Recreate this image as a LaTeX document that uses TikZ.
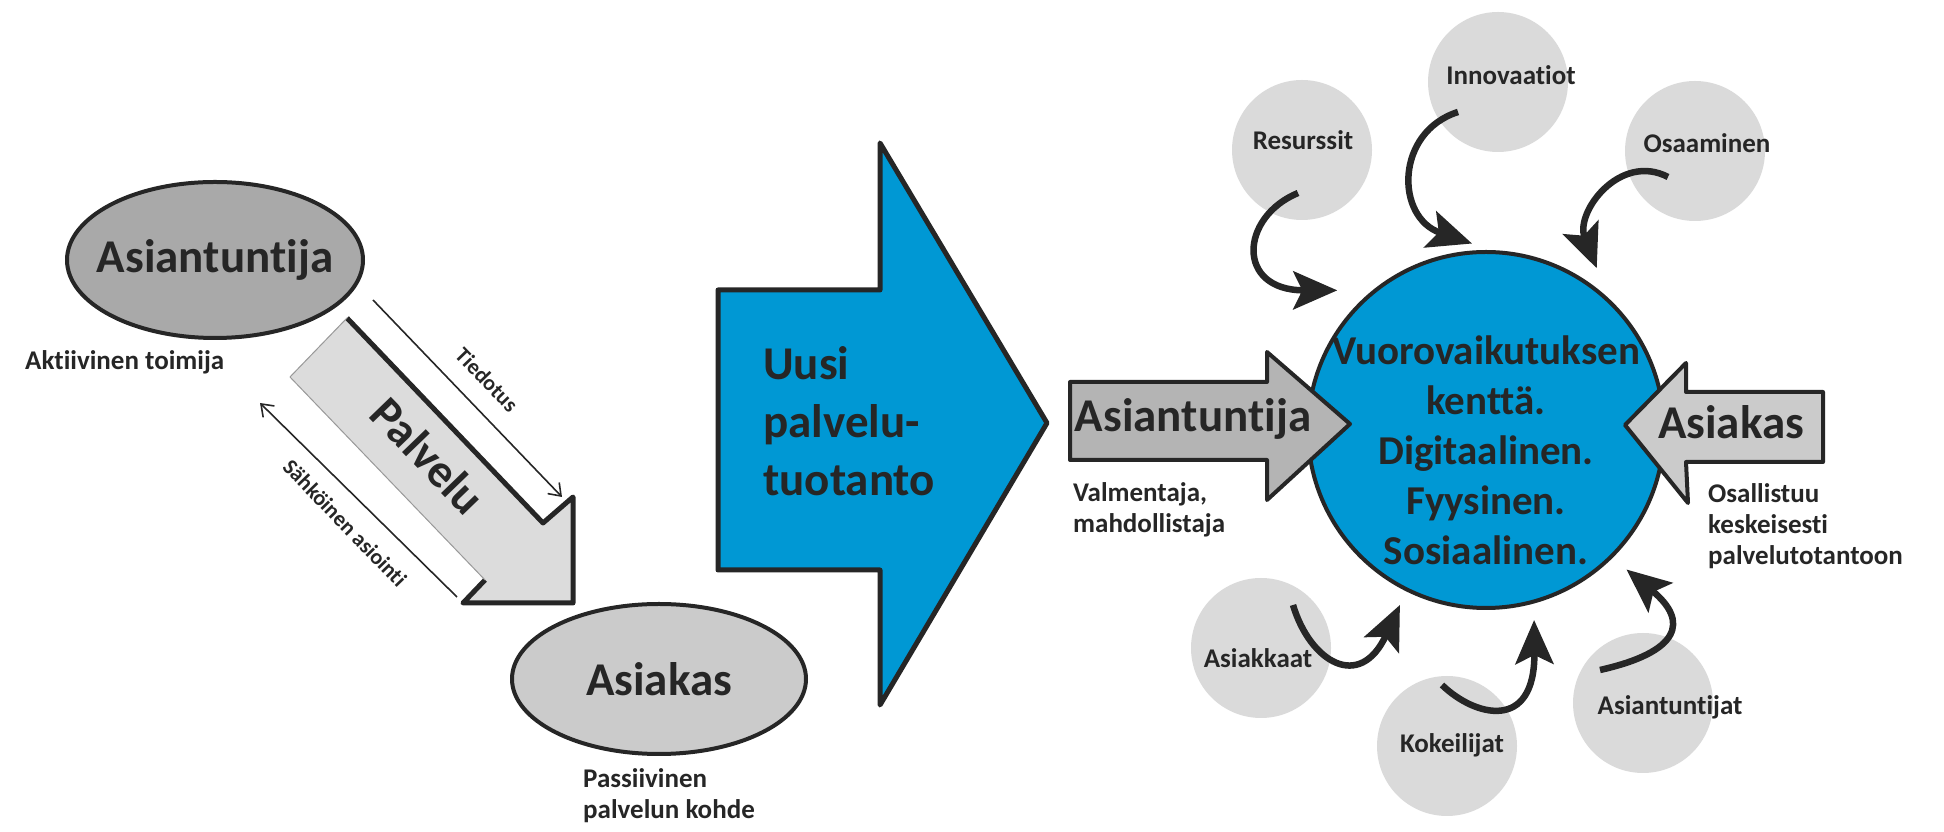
\documentclass[tikz,border=0pt]{standalone}
\usepackage{fontspec}
\setmainfont{Carlito}[Ligatures=NoCommon]
\usetikzlibrary{shapes.geometric}
\usetikzlibrary{calc}
\usetikzlibrary{arrows.meta}

\definecolor{ink}{HTML}{262626}
\definecolor{fieldblue}{HTML}{0098D4}
\definecolor{roledark}{HTML}{A9A9A9}
\definecolor{rolemid}{HTML}{B4B4B4}
\definecolor{rolelight}{HTML}{CBCBCB}
\definecolor{servicegray}{HTML}{DCDCDC}
\definecolor{bubblegray}{HTML}{DADADA}

\newcommand*{\lblbig}{\fontsize{47}{52}\selectfont\bfseries}
\newcommand*{\lblcore}{\fontsize{41}{50}\selectfont\bfseries}
\newcommand*{\lblnote}{\fontsize{27}{31}\selectfont\bfseries}
\newcommand*{\lbltiny}{\fontsize{22}{24}\selectfont\bfseries}

\begin{document}
\begin{tikzpicture}[x=1pt, y=1pt, ink, line join=round,
    bubble/.style = {circle, fill=bubblegray, minimum size=140pt, inner sep=0pt},
    feed/.style = {line width=6.5pt, -{Stealth[length=44pt, width=38pt, inset=9pt]}},
    thinarrow/.style = {line width=1.6pt, -{Straight Barb[length=11pt, width=16pt]}},
    note/.style = {font=\lblnote, inner sep=0pt, align=left}]
    \useasboundingbox (0,0) rectangle (1944,832);

    % vanha malli
    \node (expert) at (215,572) [ellipse, draw, fill=roledark, line width=4pt, minimum width=296pt, minimum height=156pt] {};
    \node at (expert) [font=\lblbig] {Asiantuntija};
    \node (expertnote) at (25,470) [note, anchor=west] {Aktiivinen toimija};

    \node (client) at (659,153) [ellipse, draw, fill=rolelight, line width=4pt, minimum width=294pt, minimum height=150pt] {};
    \node at (client) [font=\lblbig] {Asiakas};
    \node (clientnote) at (583,64) [note, anchor=north west] {Passiivinen\\palvelun kohde};

    \fill[servicegray] (347,514) -- (543,309) -- (573,335) -- (573,229) -- (463,229) -- (485,252) -- (290,455) -- cycle;
    \draw[line width=5pt] (347,514) -- (543,309) -- (573,335) -- (573,229) -- (463,229) -- (485,252);
    \draw[line width=1pt, black!40] (485,252) -- (290,455) -- (347,514);
    \node (service) at (428,376) [rotate=-46, font=\lblbig] {Palvelu};

    \coordinate (tiedA) at (373,532);
    \coordinate (tiedB) at (562,335);
    \draw[thinarrow] (tiedA) -- (tiedB);
    \node at (487,452) [rotate=-46, font=\lbltiny] {Tiedotus};

    \coordinate (sahA) at (457,235);
    \coordinate (sahB) at (260,429);
    \draw[thinarrow] (sahA) -- (sahB);
    \node at (345,309) [rotate=-46, font=\lbltiny] {Sähköinen asiointi};

    % uusi malli
    \filldraw[fill=fieldblue, line width=5pt] (718,542) -- (880,542) -- (880,689) -- (1047,409) -- (880,127) -- (880,262) -- (718,262) -- cycle;
    \node (newprod) at (763,486) [font=\fontsize{47}{58}\selectfont\bfseries, inner sep=0pt, align=left, anchor=north west] {Uusi\\palvelu-\\tuotanto};

    \node (res) at (1302,682) [bubble] {};
    \node (inn) at (1498,750) [bubble] {};
    \node (osa) at (1695,681) [bubble] {};
    \node (asi) at (1261,184) [bubble] {};
    \node (kok) at (1447,86) [bubble] {};
    \node (ast) at (1643,129) [bubble] {};
    \node at ([shift={(1,10)}]res) [font=\lblnote] {Resurssit};
    \node at ([shift={(13,7)}]inn) [font=\lblnote] {Innovaatiot};
    \node at ([shift={(12,8)}]osa) [font=\lblnote] {Osaaminen};
    \node at ([shift={(-3,-10)}]asi) [font=\lblnote] {Asiakkaat};
    \node at ([shift={(5,1)}]kok) [font=\lblnote] {Kokeilijat};
    \node at ([shift={(27,-4)}]ast) [font=\lblnote] {Asiantuntijat};

    \node (field) at (1486,402) [circle, draw, fill=fieldblue, line width=4pt, minimum size=356pt, inner sep=0pt] {};
    \node at ([yshift=-20pt]field) [font=\lblcore, align=center] {Vuorovaikutuksen\\kenttä.\\Digitaalinen.\\Fyysinen.\\Sosiaalinen.};

    \coordinate (resA) at ([shift={(-4,-43)}]res.center);
    \coordinate (resB) at ([shift={(136.8:204)}]field.center);
    \coordinate (innA) at ([shift={(-40,-30)}]inn.center);
    \coordinate (innB) at ([shift={(94.3:187)}]field.center);
    \coordinate (osaA) at ([shift={(-27,-26)}]osa.center);
    \coordinate (osaB) at ([shift={(55.6:196)}]field.center);
    \coordinate (asiA) at ([shift={(32,43)}]asi.center);
    \coordinate (asiB) at ([shift={(243.8:195)}]field.center);
    \coordinate (kokA) at ([shift={(-5,61)}]kok.center);
    \coordinate (kokB) at ([shift={(284.2:196)}]field.center);
    \coordinate (astA) at ([shift={(-43,33)}]ast.center);
    \coordinate (astB) at ([shift={(315.2:198)}]field.center);

    \draw[feed] (resA) .. controls +(-58,-24) and +(-102,0) .. (resB);
    \draw[feed] (innA) .. controls +(-63,-20) and +(-77,26) .. (innB);
    \draw[feed] (osaA) .. controls +(-48,25) and +(-22,56) .. (osaB);
    \draw[feed] (asiA) .. controls +(17,-57) and +(-40,-87) .. (asiB);
    \draw[feed] (kokA) .. controls +(33,-32) and +(1,-112) .. (kokB);
    \draw[feed] (astA) .. controls +(80,18) and +(63,-52) .. (astB);

    \filldraw[fill=rolemid, line width=4pt] (1070,450) -- (1267,450) -- (1267,480) -- (1350,408) -- (1267,332) -- (1267,372) -- (1070,372) -- cycle;
    \node (expertin) at (1193,413) [font=\lblbig] {Asiantuntija};
    \node (valnote) at (1073,350) [note, anchor=north west] {Valmentaja,\\mahdollistaja};

    \filldraw[fill=rolelight, line width=4pt] (1823,440) -- (1686,440) -- (1686,469) -- (1625,407) -- (1688,329) -- (1686,370) -- (1823,370) -- cycle;
    \node (clientin) at (1731,410) [font=\lblbig] {Asiakas};
    \node (osnote) at (1708,349) [note, anchor=north west] {Osallistuu\\keskeisesti\\palvelutotantoon};

\end{tikzpicture}
\end{document}
